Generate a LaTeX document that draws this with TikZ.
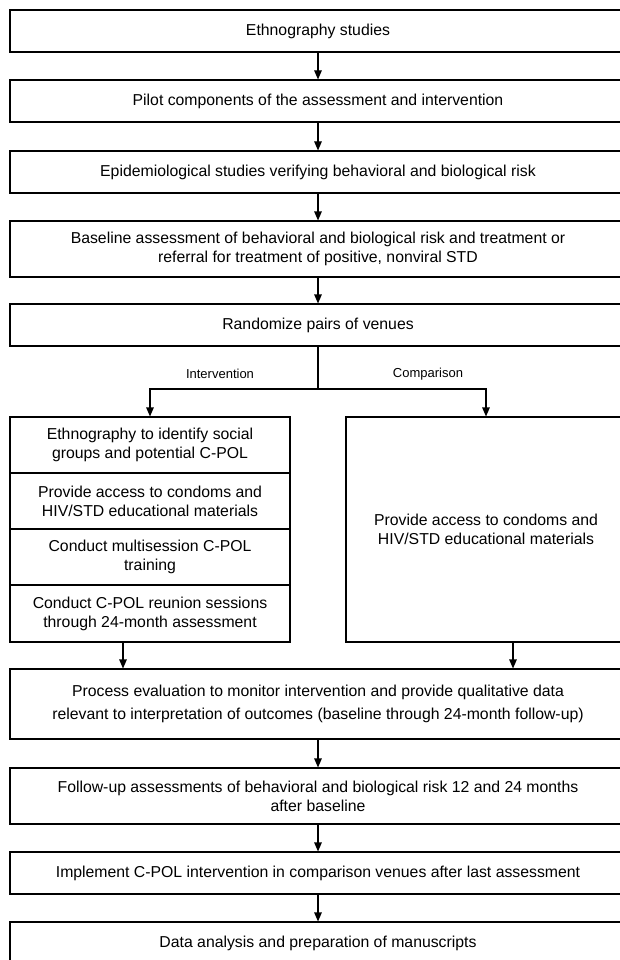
\documentclass[tikz,border=0pt]{standalone}
\usepackage{fontspec}
\setmainfont{Liberation Sans}
\usetikzlibrary{arrows.meta,positioning}
\tikzset{
  every picture/.append style={line cap=butt,line join=miter},
  study box/.style={draw,line width=1.1pt,rectangle,inner sep=2pt,align=center,
    font=\fontsize{15.8}{19}\selectfont},
  wide box/.style={study box,minimum width=616pt},
  arm box/.style={study box,minimum width=280pt},
  study arrow/.style={line width=1.1pt,-{Triangle[length=9pt,width=7.5pt]}},
  study line/.style={line width=1.1pt},
  arm label/.style={font=\fontsize{13}{15}\selectfont}
}
\begin{document}
\begin{tikzpicture}[x=1pt,y=-1pt]
  \useasboundingbox (0,0) rectangle (620,960);
  \node[wide box,minimum height=42pt] (ethno) at (318,31) {Ethnography studies};
  \node[wide box,minimum height=42pt] (pilot) at (318,101) {Pilot components of the assessment and intervention};
  \node[wide box,minimum height=42pt] (epi) at (318,172) {Epidemiological studies verifying behavioral and biological risk};
  \node[wide box,minimum height=56pt] (baseline) at (318,249) {Baseline assessment of behavioral and biological risk and treatment or\\referral for treatment of positive, nonviral STD};
  \node[wide box,minimum height=42pt] (randomize) at (318,325) {Randomize pairs of venues};

  \coordinate (branch) at (318,389);
  \node[arm label] (intlabel) at (220,374) {Intervention};
  \node[arm label] (complabel) at (428,374) {Comparison};

  \node[arm box,minimum height=56pt] (socgroups) at (150,445) {Ethnography to identify social\\groups and potential C-POL};
  \node[arm box,minimum height=56pt] (condoms) at (150,501) {Provide access to condoms and\\HIV/STD educational materials};
  \node[arm box,minimum height=56pt] (training) at (150,557) {Conduct multisession C-POL\\training};
  \node[arm box,minimum height=57pt] (reunion) at (150,613.5) {Conduct C-POL reunion sessions\\through 24-month assessment};
  \node[arm box,minimum height=225pt] (compbox) at (486,529.5) {Provide access to condoms and\\HIV/STD educational materials};

  \node[wide box,minimum height=70pt,font=\fontsize{15.8}{23}\selectfont] (process) at (318,704) {Process evaluation to monitor intervention and provide qualitative data\\relevant to interpretation of outcomes (baseline through 24-month follow-up)};
  \node[wide box,minimum height=56pt] (followup) at (318,796) {Follow-up assessments of behavioral and biological risk 12 and 24 months\\after baseline};
  \node[wide box,minimum height=42pt] (implement) at (318,873) {Implement C-POL intervention in comparison venues after last assessment};
  \node[wide box,minimum height=42pt] (analysis) at (318,943) {Data analysis and preparation of manuscripts};

  \draw[study arrow] (ethno) -- (pilot);
  \draw[study arrow] (pilot) -- (epi);
  \draw[study arrow] (epi) -- (baseline);
  \draw[study arrow] (baseline) -- (randomize);
  \draw[study line] (randomize.south) -- (branch);
  \draw[study arrow] (branch) -| (socgroups.north);
  \draw[study arrow] (branch) -| (compbox.north);
  \draw[study arrow] ([xshift=-27pt]reunion.south) -- ([xshift=-27pt]reunion.south |- process.north);
  \draw[study arrow] ([xshift=27pt]compbox.south) -- ([xshift=27pt]compbox.south |- process.north);
  \draw[study arrow] (process) -- (followup);
  \draw[study arrow] (followup) -- (implement);
  \draw[study arrow] (implement) -- (analysis);
\end{tikzpicture}
\end{document}
